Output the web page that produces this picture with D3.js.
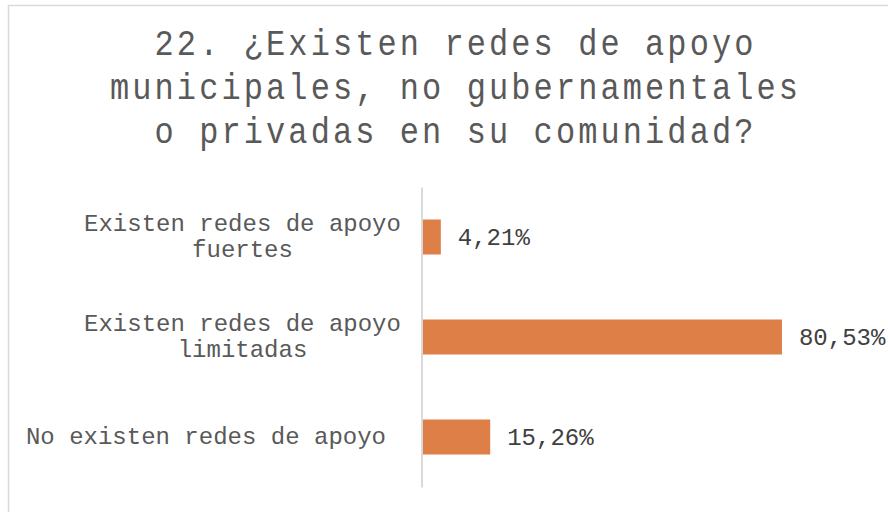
<!DOCTYPE html>
<html>
<head>
<meta charset="utf-8">
<script src="https://cdn.jsdelivr.net/npm/d3@7"></script>
<style>
  html, body { margin: 0; padding: 0; background: #fff; }
  svg { display: block; }
</style>
</head>
<body>
<svg id="chart" width="888" height="512"></svg>
<script>
const titleLines = ["22. ¿Existen redes de apoyo", "municipales, no gubernamentales", "o privadas en su comunidad?"];
const categories = ["Existen redes de apoyo fuertes", "Existen redes de apoyo limitadas", "No existen redes de apoyo"];
const categoryLines = [["Existen redes de apoyo", "fuertes"], ["Existen redes de apoyo", "limitadas"], ["No existen redes de apoyo"]];
const values = [4.21, 80.53, 15.26];

const svg = d3.select("#chart");
const font = "'Liberation Mono', 'Courier New', monospace";

// frame
svg.append("rect").attr("x", 8.5).attr("y", 5.5).attr("width", 900).attr("height", 520)
  .attr("fill", "#fff").attr("stroke", "#d9d9d9").attr("stroke-width", 1.5);

// title (slightly condensed look: smaller glyphs, spaced out, stretched vertically)
const tSize = 32, tScale = 37 / 32, tSpace = 22.3 - 0.6 * 32;
svg.append("g").selectAll("g").data(titleLines).join("g")
  .attr("transform", (d, i) => `translate(${454 + tSpace / 2},${55 + i * 44.2}) scale(1,${tScale})`)
  .append("text")
  .attr("x", 0).attr("y", 0)
  .attr("text-anchor", "middle")
  .attr("font-family", font).attr("font-size", tSize)
  .attr("letter-spacing", tSpace)
  .attr("fill", "#595959")
  .text(d => d);

const y = d3.scaleBand().domain(categories).range([187, 487]).paddingInner(0.65).paddingOuter(0.325);
const x = d3.scaleLinear().domain([0, 100]).range([422, 869]);

const fmt = d3.formatLocale({decimal: ",", thousands: ".", grouping: [3], currency: ["", "€"]}).format(".2f");

// bars
svg.append("g").selectAll("rect").data(values).join("rect")
  .attr("x", x(0))
  .attr("y", (d, i) => y(categories[i]))
  .attr("width", d => x(d) - x(0))
  .attr("height", y.bandwidth())
  .attr("fill", "#dd7f47");

// axis line
const axis = svg.append("g").attr("transform", `translate(${x(0) - 0.5},0)`)
  .call(d3.axisLeft(y).tickSize(0).tickFormat(""));
axis.select(".domain").attr("stroke", "#d9d9d9").attr("stroke-width", 2);

// value labels
svg.append("g").selectAll("text").data(values).join("text")
  .attr("x", d => x(d) + 17)
  .attr("y", (d, i) => y(categories[i]) + y.bandwidth() / 2 + 7.5)
  .attr("font-family", font).attr("font-size", 24)
  .attr("fill", "#404040")
  .text(d => fmt(d) + "%");

// category labels
const cg = svg.append("g");
categories.forEach((c, i) => {
  const lines = categoryLines[i];
  const cy = y(c) + y.bandwidth() / 2;
  const multi = lines.length > 1;
  const t = cg.append("text")
    .attr("font-family", font).attr("font-size", 24)
    .attr("fill", "#595959")
    .attr("text-anchor", multi ? "middle" : "end");
  lines.forEach((ln, j) => {
    t.append("tspan")
      .attr("x", multi ? 242.5 : 386)
      .attr("y", multi ? cy - 6.5 + j * 26.7 : cy + 6.5)
      .text(ln);
  });
});
</script>
</body>
</html>
